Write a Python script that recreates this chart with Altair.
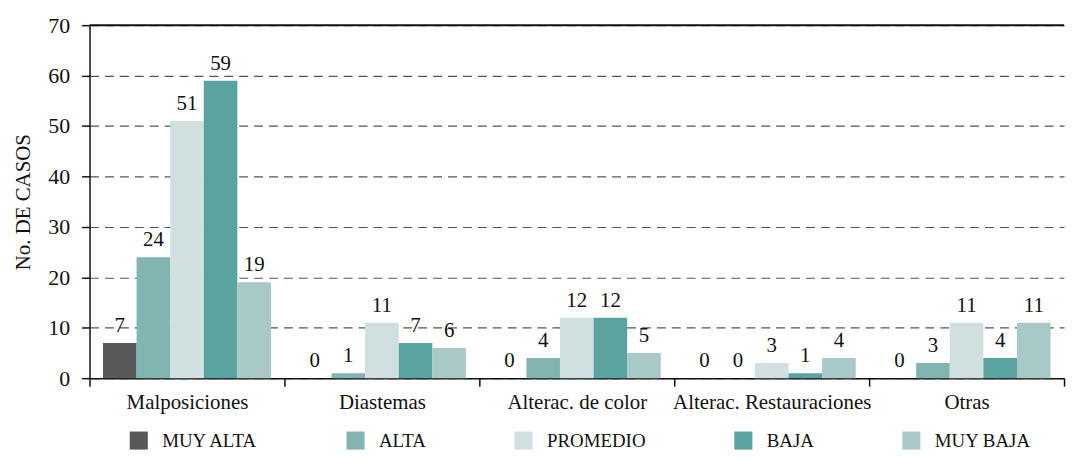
import altair as alt
import pandas as pd

categories = ["Malposiciones", "Diastemas", "Alterac. de color", "Alterac. Restauraciones", "Otras"]
series = ["MUY ALTA", "ALTA", "PROMEDIO", "BAJA", "MUY BAJA"]
colors = ["#58595b", "#82b4b2", "#d0dfdf", "#5ba39f", "#a9c9c8"]
values = {
    "MUY ALTA": [7, 0, 0, 0, 0],
    "ALTA": [24, 1, 4, 0, 3],
    "PROMEDIO": [51, 11, 12, 3, 11],
    "BAJA": [59, 7, 12, 1, 4],
    "MUY BAJA": [19, 6, 5, 4, 11],
}

rows = []
for s in series:
    for c, v in zip(categories, values[s]):
        rows.append({"cat": c, "serie": s, "val": v})
df = pd.DataFrame(rows)

FONT = "Liberation Serif"
INK = "#111111"

x = alt.X("cat:N", sort=categories, title=None,
          scale=alt.Scale(paddingInner=0, paddingOuter=0),
          axis=alt.Axis(labelAngle=0, labelFontSize=21, labelFont=FONT, labelColor=INK,
                        labelLimit=0, tickBand="extent", tickColor=INK, tickSize=8,
                        tickWidth=1.5, domainColor=INK, labelPadding=5, domainWidth=1.5))
xo = alt.XOffset("serie:N", sort=series, scale=alt.Scale(paddingInner=0, paddingOuter=0.4))
y = alt.Y("val:Q", title="No. DE CASOS",
          scale=alt.Scale(domain=[0, 70]),
          axis=alt.Axis(values=list(range(0, 71, 10)), labelFontSize=22, labelFont=FONT,
                        labelColor=INK, labelPadding=12, titleFont=FONT, titleFontSize=21,
                        titleFontWeight="normal", titleColor=INK, grid=True,
                        gridDash=[9, 6], gridColor="#555555", gridWidth=1.2,
                        tickColor=INK, tickSize=8, tickWidth=1.5, domainColor=INK,
                        domainWidth=1.5, titlePadding=14))

color = alt.Color("serie:N", sort=series, scale=alt.Scale(domain=series, range=colors),
                  legend=alt.Legend(title=None, orient="none", direction="horizontal",
                                    legendX=40, legendY=408,
                                    symbolType="square", symbolSize=330, symbolStrokeWidth=0,
                                    labelFont=FONT, labelFontSize=19, labelColor=INK,
                                    columnPadding=88, labelOffset=14))

bars = alt.Chart(df).mark_bar().encode(x=x, xOffset=xo, y=y, color=color)
labels = alt.Chart(df).mark_text(baseline="alphabetic", dy=-11, font=FONT, fontSize=21,
                                 color=INK).encode(
    x=alt.X("cat:N", sort=categories), xOffset=xo, y="val:Q", text="val:Q")
top = alt.Chart(pd.DataFrame({"v": [70]})).mark_rule(color=INK, strokeWidth=2).encode(y="v:Q")

chart = alt.layer(bars, labels, top).properties(width=980, height=355).configure_view(stroke=None)

chart.save("out.html", embed_options={"renderer": "svg", "actions": False})
